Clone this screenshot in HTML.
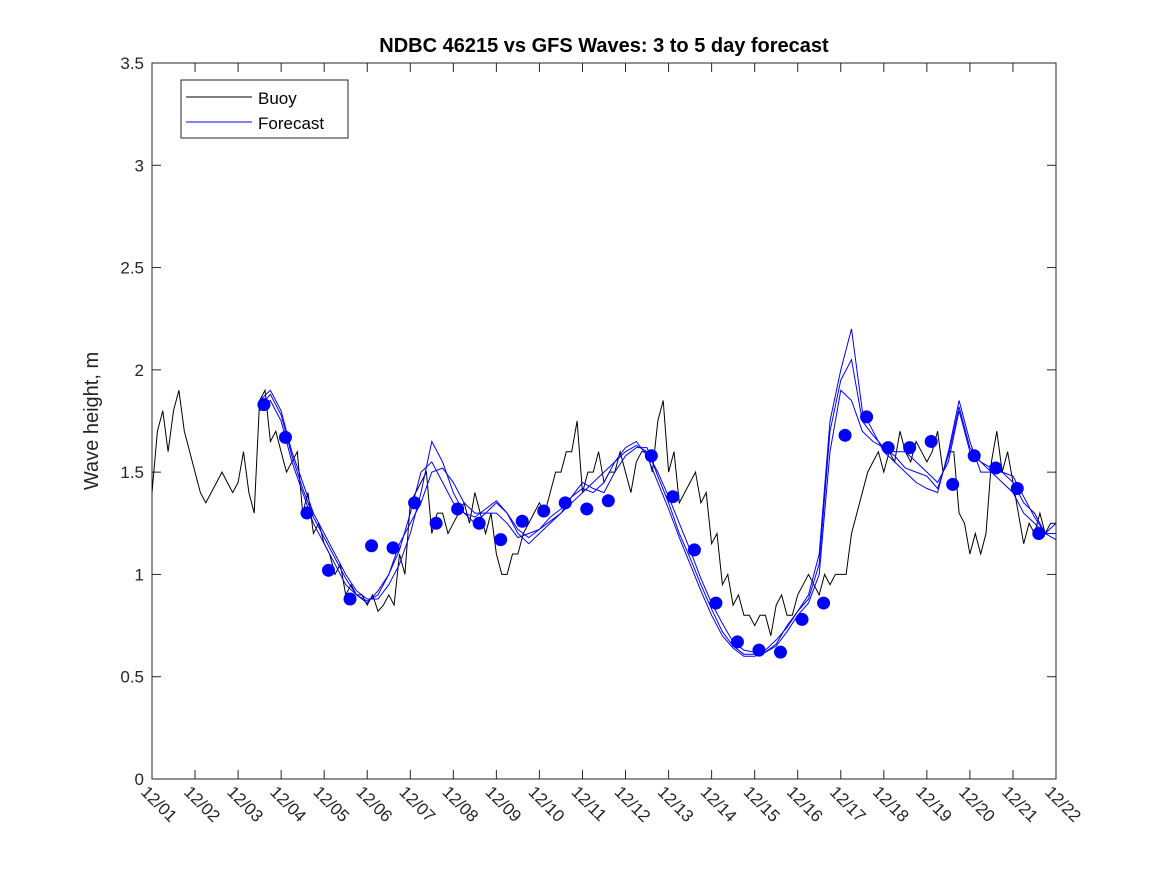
<!DOCTYPE html>
<html><head><meta charset="utf-8"><style>
body{margin:0;background:#fff;}
svg{display:block;font-family:"Liberation Sans","DejaVu Sans",sans-serif;}
</style></head><body>
<svg id="chart" width="1167" height="875"></svg>
<script>
const buoyStart = 0, buoyStep = 0.125;
const buoyValues = [1.4,1.7,1.8,1.6,1.8,1.9,1.7,1.6,1.5,1.4,
1.35,1.4,1.45,1.5,1.45,1.4,1.45,1.6,1.4,1.3,
1.85,1.9,1.65,1.7,1.6,1.5,1.55,1.6,1.3,1.4,
1.2,1.25,1.15,1.1,1.0,1.05,0.9,0.95,0.9,0.9,
0.85,0.9,0.82,0.85,0.9,0.85,1.1,1.0,1.35,1.4,
1.45,1.5,1.2,1.3,1.3,1.2,1.25,1.3,1.35,1.25,
1.4,1.3,1.2,1.3,1.1,1.0,1.0,1.1,1.1,1.2,
1.25,1.3,1.35,1.3,1.4,1.5,1.5,1.6,1.6,1.75,
1.4,1.5,1.5,1.6,1.45,1.5,1.5,1.6,1.5,1.4,
1.55,1.6,1.6,1.5,1.75,1.85,1.5,1.6,1.35,1.4,
1.45,1.5,1.35,1.4,1.15,1.2,0.95,1.0,0.85,0.9,
0.8,0.8,0.75,0.8,0.8,0.7,0.85,0.9,0.8,0.8,
0.9,0.95,1.0,0.95,0.9,1.0,0.95,1.0,
1.0,1.0,1.2,1.3,1.4,1.5,1.55,1.6,
1.5,1.6,1.55,1.7,1.6,1.55,1.65,1.6,
1.55,1.6,1.7,1.5,1.6,1.6,1.3,1.25,
1.1,1.2,1.1,1.2,1.55,1.7,1.5,1.6,
1.45,1.3,1.15,1.25,1.2,1.3,1.2,1.25,1.25];
const fcStart = 2.5, fcStep = 0.25;
const fcA = [1.85,1.9,1.8,1.6,1.45,1.3,1.2,1.1,1.0,0.92,0.88,0.88,0.95,1.05,1.2,1.4,1.65,1.55,1.4,1.3,1.25,1.3,1.35,1.3,1.2,1.15,1.2,1.25,1.3,1.35,1.4,1.45,1.5,1.55,1.6,1.63,1.6,1.5,1.38,1.25,1.12,0.98,0.86,0.76,0.67,0.63,0.62,0.62,0.65,0.72,0.8,0.86,1.0,1.6,1.9,1.85,1.7,1.65,1.62,1.6,1.6,1.55,1.5,1.45,1.55,1.8,1.6,1.55,1.5,1.45,1.4,1.3,1.25,1.2,1.25];
const fcB = [1.8,1.85,1.75,1.55,1.4,1.25,1.15,1.05,0.95,0.9,0.87,0.9,1.0,1.15,1.25,1.35,1.5,1.52,1.45,1.35,1.3,1.3,1.3,1.25,1.18,1.2,1.22,1.28,1.32,1.38,1.42,1.4,1.45,1.55,1.62,1.65,1.58,1.45,1.32,1.18,1.05,0.92,0.8,0.7,0.64,0.6,0.6,0.62,0.66,0.75,0.82,0.9,1.1,1.75,2.0,2.2,1.8,1.7,1.6,1.55,1.5,1.45,1.42,1.4,1.6,1.85,1.65,1.5,1.5,1.5,1.45,1.35,1.3,1.2,1.17];
const fcC = [1.82,1.88,1.78,1.58,1.42,1.28,1.18,1.08,0.98,0.9,0.86,0.92,1.0,1.12,1.3,1.5,1.55,1.45,1.35,1.3,1.28,1.32,1.36,1.3,1.22,1.18,1.22,1.26,1.3,1.38,1.45,1.42,1.4,1.5,1.58,1.62,1.62,1.48,1.35,1.2,1.08,0.95,0.83,0.72,0.65,0.61,0.61,0.63,0.68,0.74,0.82,0.88,1.05,1.7,1.95,2.05,1.75,1.68,1.62,1.58,1.52,1.5,1.48,1.42,1.58,1.82,1.62,1.55,1.52,1.5,1.48,1.38,1.28,1.2,1.2];
const dotDays = [2.6,3.1,3.6,4.1,4.6,5.1,5.6,6.1,6.6,7.1,7.6,8.1,8.6,9.1,9.6,10.1,10.6,11.6,12.1,12.6,13.1,13.6,14.1,14.6,15.1,15.6,16.1,16.6,17.1,17.6,18.1,18.6,19.1,19.6,20.1,20.6];
const dotValues = [1.83,1.67,1.30,1.02,0.88,1.14,1.13,1.35,1.25,1.32,1.25,1.17,1.26,1.31,1.35,1.32,1.36,1.58,1.38,1.12,0.86,0.67,0.63,0.62,0.78,0.86,1.68,1.77,1.62,1.62,1.65,1.44,1.58,1.52,1.42,1.20];
const xTickLabels = ["12/01","12/02","12/03","12/04","12/05","12/06","12/07","12/08","12/09","12/10","12/11","12/12","12/13","12/14","12/15","12/16","12/17","12/18","12/19","12/20","12/21","12/22"];
const yTicks = [0,0.5,1,1.5,2,2.5,3,3.5];

const L=152,R=1056,T=63,B=779;
const xs=d=>L+(R-L)*d/21;
const ys=v=>B-(B-T)*v/3.5;
const svg=document.getElementById('chart');
const NS='http://www.w3.org/2000/svg';
function mk(tag,attrs,parent){const e=document.createElementNS(NS,tag);for(const k in attrs)e.setAttribute(k,attrs[k]);(parent||svg).appendChild(e);return e;}

const defs=mk('defs',{});
const cp=mk('clipPath',{id:'plotclip'},defs);
mk('rect',{x:L,y:T,width:R-L,height:B-T},cp);

let e=mk('rect',{x:L,y:T,width:R-L,height:B-T,fill:'#fff',stroke:'#262626','stroke-width':1});



yTicks.forEach(v=>{
  const y=ys(v);
  mk('line',{x1:L,x2:L+9,y1:y,y2:y,stroke:'#262626'});
  mk('line',{x1:R,x2:R-9,y1:y,y2:y,stroke:'#262626'});
  const t=mk('text',{x:L-8,y:y+6,'text-anchor':'end','font-size':17,fill:'#262626'});
  t.textContent=String(v);
  
  
});
xTickLabels.forEach((lab,i)=>{
  const x=xs(i);
  mk('line',{x1:x,x2:x,y1:B,y2:B-9,stroke:'#262626'});
  mk('line',{x1:x,x2:x,y1:T,y2:T+9,stroke:'#262626'});
  const t=mk('text',{x:0,y:0,'font-size':17,fill:'#262626',transform:`translate(${x-12},${B+14}) rotate(45)`});
  t.textContent=lab;
  
  
});

const g=mk('g',{'clip-path':'url(#plotclip)'});
function seriesPath(start,step,vals){return vals.map((v,i)=>(i?'L':'M')+xs(start+i*step).toFixed(1)+','+ys(v).toFixed(1)).join('');}
e=mk('path',{d:seriesPath(buoyStart,buoyStep,buoyValues),fill:'none',stroke:'#000','stroke-width':1},g);


e=mk('path',{d:seriesPath(fcStart,fcStep,fcA),fill:'none',stroke:'#0000ff','stroke-width':1},g);


e=mk('path',{d:seriesPath(fcStart,fcStep,fcB),fill:'none',stroke:'#0000ff','stroke-width':1},g);


e=mk('path',{d:seriesPath(fcStart,fcStep,fcC),fill:'none',stroke:'#0000ff','stroke-width':1},g);


dotDays.forEach((d,i)=>{
  const c=mk('circle',{cx:xs(d),cy:ys(dotValues[i]),r:6.5,fill:'#0000ff'},g);
  
  
});

e=mk('text',{x:604,y:52,'text-anchor':'middle','font-size':20,'font-weight':'bold',fill:'#000'});
e.textContent='NDBC 46215 vs GFS Waves: 3 to 5 day forecast';


e=mk('text',{x:0,y:0,'text-anchor':'middle','font-size':20,fill:'#262626',transform:'translate(98,421) rotate(-90)'});
e.textContent='Wave height, m';



const lg=mk('g',{});


mk('rect',{x:181,y:80,width:167,height:58,fill:'#fff',stroke:'#262626'},lg);
mk('line',{x1:186,x2:252,y1:97,y2:97,stroke:'#000'},lg);
mk('line',{x1:186,x2:252,y1:122,y2:122,stroke:'#0000ff'},lg);
e=mk('text',{x:258,y:104,'font-size':17,fill:'#000'},lg);e.textContent='Buoy';


e=mk('text',{x:258,y:129,'font-size':17,fill:'#000'},lg);e.textContent='Forecast';


</script>
</body></html>
